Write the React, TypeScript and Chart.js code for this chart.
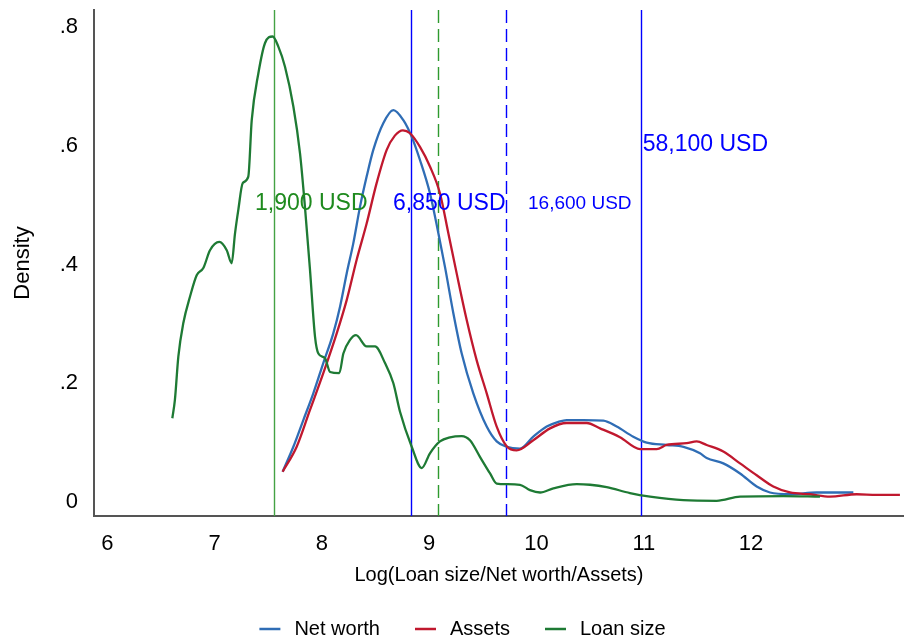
import React, { useEffect, useRef } from 'react';
import { Chart, registerables } from 'chart.js';

Chart.register(...registerables);

const FONT = "'Liberation Sans', Arial, Helvetica, sans-serif";

// ---- Data (log values on x, kernel density on y) ----
const netWorthX = [7.634, 7.734, 7.827, 7.92, 8.013, 8.106, 8.169, 8.231, 8.293, 8.355, 8.417, 8.479, 8.572, 8.666, 8.759, 8.837, 8.914, 9.007, 9.085, 9.147, 9.225, 9.303, 9.411, 9.536, 9.629, 9.722, 9.846, 9.97, 10.095, 10.204, 10.281, 10.436, 10.623, 10.747, 10.902, 11.027, 11.213, 11.37, 11.524, 11.586, 11.741, 11.897, 12.052, 12.176, 12.362, 12.611, 12.953];
const netWorthY = [0.051, 0.093, 0.138, 0.183, 0.234, 0.284, 0.329, 0.385, 0.436, 0.497, 0.548, 0.593, 0.638, 0.660, 0.643, 0.615, 0.576, 0.520, 0.453, 0.396, 0.318, 0.250, 0.183, 0.127, 0.102, 0.093, 0.090, 0.110, 0.127, 0.135, 0.138, 0.138, 0.137, 0.127, 0.110, 0.100, 0.096, 0.093, 0.082, 0.074, 0.065, 0.048, 0.026, 0.016, 0.013, 0.016, 0.016];

const assetsX = [7.634, 7.765, 7.889, 8.013, 8.138, 8.231, 8.324, 8.417, 8.51, 8.604, 8.68, 8.755, 8.821, 8.914, 9.007, 9.1, 9.178, 9.256, 9.349, 9.442, 9.536, 9.629, 9.722, 9.815, 9.97, 10.126, 10.281, 10.468, 10.592, 10.778, 10.965, 11.12, 11.213, 11.4, 11.493, 11.586, 11.741, 11.897, 12.052, 12.207, 12.362, 12.549, 12.735, 12.984, 13.17, 13.387];
const assetsY = [0.051, 0.093, 0.155, 0.217, 0.284, 0.340, 0.408, 0.469, 0.537, 0.593, 0.617, 0.626, 0.621, 0.598, 0.565, 0.520, 0.453, 0.385, 0.307, 0.239, 0.183, 0.127, 0.094, 0.087, 0.104, 0.124, 0.133, 0.133, 0.124, 0.109, 0.089, 0.089, 0.096, 0.099, 0.102, 0.096, 0.085, 0.065, 0.045, 0.026, 0.016, 0.013, 0.009, 0.013, 0.012, 0.012];

const loanX = [6.606, 6.63, 6.662, 6.708, 6.771, 6.833, 6.895, 6.957, 7.044, 7.113, 7.159, 7.19, 7.221, 7.262, 7.314, 7.346, 7.408, 7.47, 7.541, 7.594, 7.656, 7.734, 7.796, 7.842, 7.889, 7.936, 7.967, 8.029, 8.076, 8.162, 8.2, 8.262, 8.318, 8.417, 8.495, 8.588, 8.666, 8.728, 8.837, 8.93, 9.007, 9.1, 9.194, 9.303, 9.38, 9.473, 9.567, 9.629, 9.722, 9.846, 9.939, 10.033, 10.157, 10.375, 10.499, 10.654, 10.871, 11.058, 11.368, 11.679, 11.897, 12.3, 12.642];
const loanY = [0.141, 0.172, 0.245, 0.301, 0.346, 0.382, 0.394, 0.424, 0.438, 0.424, 0.402, 0.452, 0.492, 0.537, 0.548, 0.643, 0.722, 0.773, 0.784, 0.767, 0.733, 0.666, 0.587, 0.497, 0.391, 0.278, 0.250, 0.242, 0.219, 0.217, 0.250, 0.273, 0.281, 0.262, 0.262, 0.234, 0.200, 0.152, 0.093, 0.057, 0.082, 0.102, 0.109, 0.111, 0.104, 0.076, 0.048, 0.031, 0.030, 0.029, 0.020, 0.016, 0.023, 0.030, 0.029, 0.025, 0.015, 0.009, 0.003, 0.002, 0.009, 0.010, 0.009];

const seriesLabels = ['Net worth', 'Assets', 'Loan size'];
const seriesColors = ['#2f6db5', '#c0182e', '#1e7a34'];

// vertical reference lines (log of USD thresholds)
const markerX = [7.55, 8.832, 9.086, 9.717, 10.97];
const markerColors = ['#44a244', '#0000ff', '#2e9a2e', '#0000ff', '#0000ff'];
const markerDashed = [false, false, true, true, false];

// text annotations
const noteTexts = ['1,900 USD', '6,850 USD', '16,600 USD', '58,100 USD'];
const noteX = [7.377, 8.663, 9.921, 10.99];
const noteY = [0.503, 0.503, 0.503, 0.601];
const noteColors = ['#1e8a1e', '#0000ff', '#0000ff', '#0000ff'];
const noteSizes = [23, 23, 19, 23];

const xTicks = [6, 7, 8, 9, 10, 11, 12];
const yTicks = [0, 0.2, 0.4, 0.6, 0.8];
const yTickLabels = ['0', '.2', '.4', '.6', '.8'];

const X_MIN = 5.876;
const X_MAX = 13.425;
const Y_MIN = -0.0236;
const Y_MAX = 0.8286;

const toPoints = (xs: number[], ys: number[]) => xs.map((x, i) => ({ x, y: ys[i] }));

const annotationPlugin = {
  id: 'annotations',
  beforeDatasetsDraw(chart: any) {
    const { ctx, chartArea, scales } = chart;
    ctx.save();
    markerX.forEach((v, i) => {
      const px = Math.round(scales.x.getPixelForValue(v)) + 0.5;
      ctx.beginPath();
      ctx.strokeStyle = markerColors[i];
      ctx.lineWidth = 1.4;
      ctx.setLineDash(markerDashed[i] ? [13, 6] : []);
      ctx.moveTo(px, chartArea.top);
      ctx.lineTo(px, chartArea.bottom);
      ctx.stroke();
    });
    ctx.restore();
  },
  afterDatasetsDraw(chart: any) {
    const { ctx, scales } = chart;
    ctx.save();
    ctx.textAlign = 'left';
    ctx.textBaseline = 'middle';
    noteTexts.forEach((t, i) => {
      ctx.font = `${noteSizes[i]}px ${FONT}`;
      ctx.fillStyle = noteColors[i];
      ctx.fillText(t, scales.x.getPixelForValue(noteX[i]), scales.y.getPixelForValue(noteY[i]));
    });
    ctx.restore();
  },
  afterDraw(chart: any) {
    const { ctx } = chart;
    ctx.save();
    ctx.font = `20px ${FONT}`;
    ctx.textBaseline = 'middle';
    ctx.textAlign = 'left';
    const lineLen = 21;
    const gap = 14;
    const itemGap = 35;
    const widths = seriesLabels.map((t) => ctx.measureText(t).width);
    const total = widths.reduce((a, w) => a + lineLen + gap + w, 0) + itemGap * (seriesLabels.length - 1);
    let x = 462.5 - total / 2;
    const y = 629;
    seriesLabels.forEach((t, i) => {
      ctx.strokeStyle = seriesColors[i];
      ctx.lineWidth = 2.5;
      ctx.beginPath();
      ctx.moveTo(x, y);
      ctx.lineTo(x + lineLen, y);
      ctx.stroke();
      ctx.fillStyle = '#000';
      ctx.fillText(t, x + lineLen + gap, y);
      x += lineLen + gap + widths[i] + itemGap;
    });
    ctx.restore();
  },
};

export default function App() {
  const canvasRef = useRef<HTMLCanvasElement | null>(null);

  useEffect(() => {
    if (!canvasRef.current) return;
    const series = [
      { xs: netWorthX, ys: netWorthY, order: 3 },
      { xs: assetsX, ys: assetsY, order: 2 },
      { xs: loanX, ys: loanY, order: 1 },
    ];
    const chart = new Chart(canvasRef.current, {
      type: 'line',
      data: {
        datasets: series.map((s, i) => ({
          label: seriesLabels[i],
          data: toPoints(s.xs, s.ys),
          borderColor: seriesColors[i],
          backgroundColor: seriesColors[i],
          borderWidth: 2.3,
          pointRadius: 0,
          cubicInterpolationMode: 'monotone' as const,
          fill: false,
          order: s.order,
        })),
      },
      options: {
        animation: false,
        responsive: false,
        maintainAspectRatio: false,
        layout: { padding: { top: 10, left: 0, right: 0, bottom: 0 } },
        plugins: {
          legend: { display: false },
          tooltip: { enabled: false },
        },
        scales: {
          x: {
            type: 'linear',
            min: X_MIN,
            max: X_MAX,
            afterBuildTicks: (scale: any) => {
              scale.ticks = xTicks.map((v) => ({ value: v }));
            },
            afterFit: (scale: any) => {
              scale.height = 128;
              scale.paddingLeft = 0;
              scale.paddingRight = 0;
            },
            grid: { display: false, drawTicks: false },
            border: { display: true, color: '#555', width: 2 },
            ticks: {
              color: '#000',
              padding: 15,
              autoSkip: false,
              maxRotation: 0,
              font: { family: FONT, size: 22 },
              callback: (v: any) => String(v),
            },
            title: {
              display: true,
              text: 'Log(Loan size/Net worth/Assets)',
              color: '#000',
              font: { family: FONT, size: 20 },
              padding: { top: 0, bottom: 57 },
            },
          },
          y: {
            type: 'linear',
            min: Y_MIN,
            max: Y_MAX,
            afterBuildTicks: (scale: any) => {
              scale.ticks = yTicks.map((v) => ({ value: v }));
            },
            afterFit: (scale: any) => {
              scale.width = 94;
              scale.paddingTop = 0;
              scale.paddingBottom = 0;
            },
            grid: { display: false, drawTicks: false },
            border: { display: true, color: '#555', width: 2 },
            ticks: {
              color: '#000',
              padding: 16,
              autoSkip: false,
              font: { family: FONT, size: 22 },
              callback: (_v: any, i: number) => yTickLabels[i],
            },
            title: {
              display: true,
              text: 'Density',
              color: '#000',
              font: { family: FONT, size: 22 },
              padding: { top: 10, bottom: 0 },
            },
          },
        },
      },
      plugins: [annotationPlugin],
    });
    return () => chart.destroy();
  }, []);

  return (
    <div style={{ position: 'absolute', left: 0, top: 0, width: 904, height: 644, background: '#fff' }}>
      <canvas ref={canvasRef} width={904} height={644} style={{ display: 'block' }} />
    </div>
  );
}
